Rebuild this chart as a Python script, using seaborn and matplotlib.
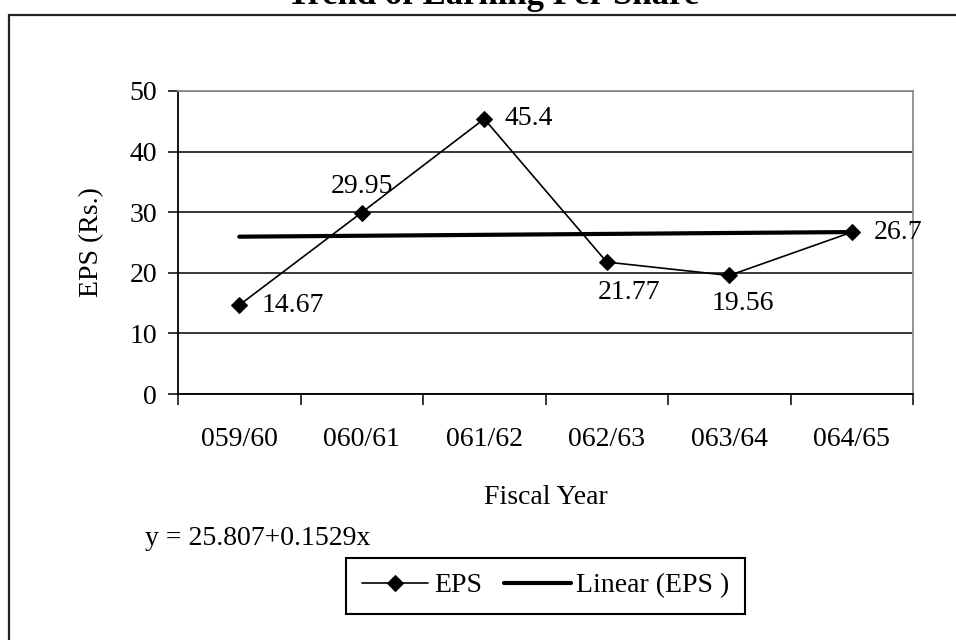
import numpy as np
import matplotlib
matplotlib.use("Agg")
import matplotlib.pyplot as plt
import seaborn as sns
from matplotlib.patches import Rectangle

# ---- data ----
years = ["059/60", "060/61", "061/62", "062/63", "063/64", "064/65"]
eps = [14.67, 29.95, 45.4, 21.77, 19.56, 26.7]
yticks = [0, 10, 20, 30, 40, 50]
title = "Trend of Earning Per Share"
equation = "y = 25.807+0.1529x"

# label offsets (pixels) for data labels
label_offsets = [(22, 0, "left", "center"), (0, 26, "center", "center"),
                 (20, 0, "left", "center"), (22, -30, "center", "center"),
                 (14, -28, "center", "center"), (22, 0, "left", "center")]

sns.set_theme(style="white")
plt.rcParams["font.family"] = ["Liberation Serif", "DejaVu Serif"]
for k in ["text.color", "axes.labelcolor", "xtick.color", "ytick.color"]:
    plt.rcParams[k] = "black"

FS = 20
fig = plt.figure(figsize=(9.56, 6.4), dpi=100)
fig.patch.set_facecolor("white")
ax = fig.add_axes([178 / 956, 1 - 394 / 640, 735 / 956, 303 / 640])
ax.set_facecolor("white")

xpos = np.arange(len(years))

sns.lineplot(x=xpos, y=eps, marker="D", markersize=8, color="black",
             markeredgecolor="black", lw=1.2, label="EPS", ax=ax, zorder=4)
sns.regplot(x=xpos, y=np.array(eps), ci=None, scatter=False, color="black",
            truncate=True, ax=ax, label="Linear (EPS )",
            line_kws={"lw": 3.0, "solid_capstyle": "round", "zorder": 3})

for xi, yi, (dx, dy, ha, va) in zip(xpos, eps, label_offsets):
    ax.annotate(f"{yi:g}", (xi, yi), xytext=(dx, dy), textcoords="offset pixels",
                ha=ha, va=va, fontsize=FS, color="black")

ax.set_xlim(-0.5, len(years) - 0.5)
ax.set_ylim(0, 50)
ax.set_yticks(yticks)
ax.set_yticklabels([str(v) for v in yticks], fontsize=FS)
ax.set_xticks(xpos)
ax.set_xticklabels(years, fontsize=FS)
ax.set_xticks(np.arange(len(years) + 1) - 0.5, minor=True)
ax.tick_params(axis="x", which="major", length=0, pad=24, colors="black")
ax.tick_params(axis="x", which="minor", length=8, width=1.1, direction="out", color="black", bottom=True)
ax.tick_params(axis="y", which="major", length=7, width=1.1, direction="out", pad=8,
               colors="black", left=True)

ax.set_axisbelow(True)
ax.yaxis.grid(True, color="black", lw=1.1)
ax.xaxis.grid(False)

for s in ["left", "bottom"]:
    ax.spines[s].set_color("black")
    ax.spines[s].set_linewidth(1.3)
for s in ["top", "right"]:
    ax.spines[s].set_color("#8c8c8c")
    ax.spines[s].set_linewidth(1.3)

ax.set_xlabel("Fiscal Year", fontsize=FS, va="center", color="black")
ax.xaxis.set_label_coords(0.5, (394 - 498) / 303)
ax.set_ylabel("EPS (Rs.)", fontsize=FS, va="center", color="black")
ax.yaxis.set_label_coords((92 - 178) / 735, 0.5)

handles, labels = ax.get_legend_handles_labels()
leg = ax.legend(handles, labels, loc="center", bbox_to_anchor=(545.5 / 956, 1 - 585.5 / 640),
                bbox_transform=fig.transFigure, ncol=2, fontsize=FS, frameon=True,
                fancybox=False, edgecolor="black", handlelength=2.4, handletextpad=0.2,
                columnspacing=0.8, borderpad=0.55, borderaxespad=0)
leg.get_frame().set_linewidth(1.5)
leg.get_frame().set_alpha(1)
for t in leg.get_texts():
    t.set_color("black")

fig.text(493 / 956, 1 - 4 / 640, title, ha="center", va="baseline",
         fontsize=25, fontweight="bold", color="black")
fig.text(145 / 956, 1 - 545 / 640, equation, ha="left", va="baseline",
         fontsize=FS, color="black")

border = Rectangle((9 / 956, -0.2), 1.2, 1.2 - 14.5 / 640, transform=fig.transFigure,
                   fill=False, edgecolor="#222222", lw=1.6, clip_on=False)
fig.patches.append(border)

fig.savefig("out.png", dpi=100)
